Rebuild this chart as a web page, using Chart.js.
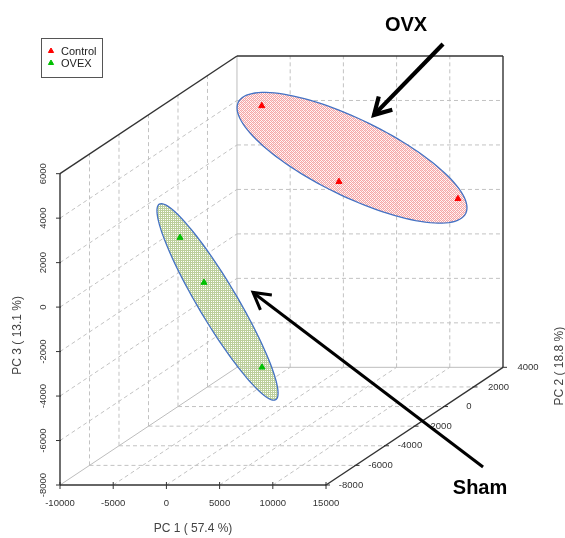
<!DOCTYPE html>
<html>
<head>
<meta charset="utf-8">
<title>PCA 3D score plot</title>
<script src="https://cdn.jsdelivr.net/npm/chart.js@4.4.1/dist/chart.umd.min.js"></script>
<style>
  html, body { margin: 0; padding: 0; background: #fff; }
  #wrap { width: 565px; height: 538px; position: relative; }
</style>
</head>
<body>
<div id="wrap"><canvas id="pcaChart"></canvas></div>
<script>
/*
 * PCA 3D 점수 그림 (scatterplot3d 스타일)
 * 3차원 점수를 사선 투영한 뒤 Chart.js 의 x/y 스케일로 그림
 */

// 그룹 이름
const groupNames = ['Control', 'OVEX'];
const groupColors = ['#ff0000', '#00c000'];

// PCA 점수 (PC1, PC2, PC3)
const controlPC1 = [-4900, 970, 13540];
const controlPC2 = [2000, 3000, 2000];
const controlPC3 = [4640, 790, 460];
const ovexPC1 = [-5650, -2010, 6210];
const ovexPC2 = [-3000, -4000, -6000];
const ovexPC3 = [920, -660, -3590];

// 축 눈금, 축 제목
const pc1Ticks = [-10000, -5000, 0, 5000, 10000, 15000];
const pc2Ticks = [-8000, -6000, -4000, -2000, 0, 2000, 4000];
const pc3Ticks = [-8000, -6000, -4000, -2000, 0, 2000, 4000, 6000];
const axisTitles = ['PC 1 ( 57.4 %)', 'PC 2 ( 18.8 %)', 'PC 3 ( 13.1 %)'];

// 깊이(PC2) 방향 투영 계수
const DEPTH_X = 1.386;
const DEPTH_Y = 0.441;

const P1_MIN = pc1Ticks[0], P1_MAX = pc1Ticks[pc1Ticks.length - 1];
const P2_MIN = pc2Ticks[0], P2_MAX = pc2Ticks[pc2Ticks.length - 1];
const P3_MIN = pc3Ticks[0], P3_MAX = pc3Ticks[pc3Ticks.length - 1];

/*
 * 3D 좌표 -> 2D 투영 좌표
 * 파라미터: pc1, pc2, pc3 값
 * 반환값: {x, y} (차트 스케일 단위)
 */
const project = function (p1, p2, p3) {
    const d = p2 - P2_MIN;
    return { x: p1 + DEPTH_X * d, y: p3 + DEPTH_Y * d };
};

const toPoints = (a, b, c) => a.map((v, i) => project(v, b[i], c[i]));

// 신뢰 타원 (투영 좌표 단위: 중심, 장축 벡터, 단축 벡터)
const ellipses = [
    { center: [17444, 6715], major: [10686, -2499], minor: [-1588, -1548], group: 0 },
    { center: [4803, 232], major: [5470, -4397], minor: [-1570, -444], group: 1 }
];

// 주석 화살표 (투영 좌표 단위)
const arrows = [
    { from: [25996, 11829], to: [19511, 8644], text: 'OVX', textAt: [22519, 12682], width: 4.2 },
    { from: [29756, -7192], to: [8139, 659], text: 'Sham', textAt: [29474, -8179], width: 3 }
];

/*
 * 타원 채우기용 격자 패턴 생성
 * 파라미터: 그룹 번호
 * 반환값: CanvasPattern
 */
const makePattern = function (ctx, group) {
    const c = document.createElement('canvas');
    c.width = 4; c.height = 4;
    const g = c.getContext('2d');
    if (group === 0) {
        g.fillStyle = 'rgba(255,242,242,0.7)';
        g.fillRect(0, 0, 4, 4);
        g.fillStyle = '#f5a6a6';
        for (let y = 0; y < 4; y++) {
            for (let x = 0; x < 4; x++) {
                if ((x + y) % 2 === 0) g.fillRect(x, y, 1, 1);
            }
        }
        g.fillStyle = '#fbd0d0';
        g.fillRect(1, 2, 1, 1);
        g.fillRect(3, 0, 1, 1);
    } else {
        g.fillStyle = 'rgba(255,255,250,0.6)';
        g.fillRect(0, 0, 4, 4);
        g.fillStyle = '#bccf9c';
        for (let y = 0; y < 4; y++) {
            for (let x = 0; x < 4; x++) {
                if (x % 2 === 0 || y % 2 === 0) g.fillRect(x, y, 1, 1);
            }
        }
    }
    return ctx.createPattern(c, 'repeat');
};

// 투영 좌표 -> 픽셀
const toPx = function (chart, u, v) {
    return [chart.scales.x.getPixelForValue(u), chart.scales.y.getPixelForValue(v)];
};

// 3D 선분 그리기
const line3 = function (chart, a, b) {
    const ctx = chart.ctx;
    const p = project(a[0], a[1], a[2]);
    const q = project(b[0], b[1], b[2]);
    const s = toPx(chart, p.x, p.y);
    const e = toPx(chart, q.x, q.y);
    ctx.beginPath();
    ctx.moveTo(s[0], s[1]);
    ctx.lineTo(e[0], e[1]);
    ctx.stroke();
};

/*
 * 박스, 격자, 축, 타원 그리기 플러그인
 */
const boxPlugin = {
    id: 'box3d',
    beforeDatasetsDraw(chart) {
        const ctx = chart.ctx;
        ctx.save();

        // 점선 격자
        ctx.strokeStyle = '#c2c2c2';
        ctx.lineWidth = 1;
        ctx.setLineDash([4, 3]);
        // 뒷면
        pc1Ticks.slice(1, -1).forEach(t => line3(chart, [t, P2_MAX, P3_MIN], [t, P2_MAX, P3_MAX]));
        pc3Ticks.slice(1, -1).forEach(t => line3(chart, [P1_MIN, P2_MAX, t], [P1_MAX, P2_MAX, t]));
        // 왼쪽 벽
        pc3Ticks.slice(1, -1).forEach(t => line3(chart, [P1_MIN, P2_MIN, t], [P1_MIN, P2_MAX, t]));
        pc2Ticks.slice(1, -1).forEach(t => line3(chart, [P1_MIN, t, P3_MIN], [P1_MIN, t, P3_MAX]));
        // 바닥
        pc1Ticks.slice(1, -1).forEach(t => line3(chart, [t, P2_MIN, P3_MIN], [t, P2_MAX, P3_MIN]));
        pc2Ticks.slice(1, -1).forEach(t => line3(chart, [P1_MIN, t, P3_MIN], [P1_MAX, t, P3_MIN]));

        // 연한 실선 (안쪽 모서리)
        ctx.setLineDash([]);
        ctx.strokeStyle = '#bdbdbd';
        line3(chart, [P1_MIN, P2_MAX, P3_MIN], [P1_MIN, P2_MAX, P3_MAX]);
        line3(chart, [P1_MIN, P2_MAX, P3_MIN], [P1_MAX, P2_MAX, P3_MIN]);
        line3(chart, [P1_MIN, P2_MIN, P3_MIN], [P1_MIN, P2_MAX, P3_MIN]);

        // 진한 실선 (바깥 모서리, 축)
        ctx.strokeStyle = '#333';
        ctx.lineWidth = 1.4;
        line3(chart, [P1_MIN, P2_MIN, P3_MIN], [P1_MAX, P2_MIN, P3_MIN]);
        line3(chart, [P1_MIN, P2_MIN, P3_MIN], [P1_MIN, P2_MIN, P3_MAX]);
        line3(chart, [P1_MIN, P2_MIN, P3_MAX], [P1_MIN, P2_MAX, P3_MAX]);
        line3(chart, [P1_MIN, P2_MAX, P3_MAX], [P1_MAX, P2_MAX, P3_MAX]);
        line3(chart, [P1_MAX, P2_MAX, P3_MIN], [P1_MAX, P2_MAX, P3_MAX]);
        line3(chart, [P1_MAX, P2_MIN, P3_MIN], [P1_MAX, P2_MAX, P3_MIN]);

        // 눈금 표시와 눈금 글자
        ctx.fillStyle = '#333';
        ctx.font = '9.5px "Liberation Sans", Arial, sans-serif';
        ctx.lineWidth = 1;
        pc1Ticks.forEach(t => {
            const p = project(t, P2_MIN, P3_MIN);
            const [x, y] = toPx(chart, p.x, p.y);
            ctx.beginPath(); ctx.moveTo(x, y - 3); ctx.lineTo(x, y + 4); ctx.stroke();
            ctx.textAlign = 'center'; ctx.textBaseline = 'middle';
            ctx.fillText(String(t), x, y + 18);
        });
        pc3Ticks.forEach(t => {
            const p = project(P1_MIN, P2_MIN, t);
            const [x, y] = toPx(chart, p.x, p.y);
            ctx.beginPath(); ctx.moveTo(x - 4, y); ctx.lineTo(x + 1, y); ctx.stroke();
            ctx.save();
            ctx.translate(x - 17, y);
            ctx.rotate(-Math.PI / 2);
            ctx.textAlign = 'center'; ctx.textBaseline = 'middle';
            ctx.fillText(String(t), 0, 0);
            ctx.restore();
        });
        pc2Ticks.forEach(t => {
            const p = project(P1_MAX, t, P3_MIN);
            const [x, y] = toPx(chart, p.x, p.y);
            ctx.beginPath(); ctx.moveTo(x - 1, y); ctx.lineTo(x + 4, y); ctx.stroke();
            ctx.textAlign = 'center'; ctx.textBaseline = 'middle';
            ctx.fillText(String(t), x + 25, y);
        });

        // 축 제목
        ctx.fillStyle = '#444';
        ctx.font = '12px "Liberation Sans", Arial, sans-serif';
        ctx.textAlign = 'center'; ctx.textBaseline = 'middle';
        const a1 = project((P1_MIN + P1_MAX) / 2, P2_MIN, P3_MIN);
        const [tx, ty] = toPx(chart, a1.x, a1.y);
        ctx.fillText(axisTitles[0], tx, ty + 44);
        const a3 = project(P1_MIN, P2_MIN, (P3_MIN + P3_MAX) / 2);
        const [zx, zy] = toPx(chart, a3.x, a3.y);
        ctx.save(); ctx.translate(zx - 42, zy + 6); ctx.rotate(-Math.PI / 2);
        ctx.fillText(axisTitles[2], 0, 0); ctx.restore();
        const a2 = project(P1_MAX, (P2_MIN + P2_MAX) / 2, P3_MIN);
        const [yx, yy] = toPx(chart, a2.x, a2.y);
        ctx.save(); ctx.translate(yx + 145, yy - 60); ctx.rotate(-Math.PI / 2);
        ctx.fillText(axisTitles[1], 0, 0); ctx.restore();

        // 타원
        ellipses.forEach(el => {
            ctx.beginPath();
            for (let i = 0; i <= 120; i++) {
                const t = i / 120 * Math.PI * 2;
                const u = el.center[0] + Math.cos(t) * el.major[0] + Math.sin(t) * el.minor[0];
                const v = el.center[1] + Math.cos(t) * el.major[1] + Math.sin(t) * el.minor[1];
                const [x, y] = toPx(chart, u, v);
                if (i === 0) ctx.moveTo(x, y); else ctx.lineTo(x, y);
            }
            ctx.closePath();
            ctx.fillStyle = makePattern(ctx, el.group);
            ctx.fill();
            ctx.strokeStyle = '#4472c4';
            ctx.lineWidth = 1.3;
            ctx.stroke();
        });
        ctx.restore();
    },
    afterDraw(chart) {
        const ctx = chart.ctx;
        ctx.save();

        // 범례
        ctx.strokeStyle = '#555';
        ctx.lineWidth = 1;
        ctx.strokeRect(41.5, 38.5, 61, 39);
        ctx.font = '11px "Liberation Sans", Arial, sans-serif';
        ctx.textAlign = 'left'; ctx.textBaseline = 'middle';
        chart.data.datasets.forEach((ds, i) => {
            const y = 51 + i * 12;
            ctx.fillStyle = ds.backgroundColor;
            ctx.strokeStyle = ds.borderColor;
            Chart.helpers.drawPoint(ctx, { pointStyle: 'triangle', radius: 3, borderWidth: 1 }, 51, y);
            ctx.fillStyle = '#222';
            ctx.fillText(ds.label, 61, y + 0.5);
        });

        // 화살표와 주석 글자
        ctx.strokeStyle = '#000';
        ctx.fillStyle = '#000';
        ctx.lineCap = 'butt';
        arrows.forEach(ar => {
            ctx.lineWidth = ar.width;
            const [x0, y0] = toPx(chart, ar.from[0], ar.from[1]);
            const [x1, y1] = toPx(chart, ar.to[0], ar.to[1]);
            ctx.beginPath(); ctx.moveTo(x0, y0); ctx.lineTo(x1, y1); ctx.stroke();
            const ang = Math.atan2(y0 - y1, x0 - x1);
            const len = 19;
            ctx.beginPath();
            ctx.moveTo(x1 + len * Math.cos(ang - 0.52), y1 + len * Math.sin(ang - 0.52));
            ctx.lineTo(x1, y1);
            ctx.lineTo(x1 + len * Math.cos(ang + 0.52), y1 + len * Math.sin(ang + 0.52));
            ctx.stroke();
            const [lx, ly] = toPx(chart, ar.textAt[0], ar.textAt[1]);
            ctx.font = 'bold 20px "Liberation Sans", Arial, sans-serif';
            ctx.textAlign = 'center'; ctx.textBaseline = 'middle';
            ctx.fillText(ar.text, lx, ly);
        });
        ctx.restore();
    }
};

const ctx = document.getElementById('pcaChart').getContext('2d');

new Chart(ctx, {
    type: 'scatter',
    data: {
        datasets: [{
            label: groupNames[0],
            data: toPoints(controlPC1, controlPC2, controlPC3),
            backgroundColor: groupColors[0],
            borderColor: groupColors[0]
        }, {
            label: groupNames[1],
            data: toPoints(ovexPC1, ovexPC2, ovexPC3),
            backgroundColor: groupColors[1],
            borderColor: groupColors[1]
        }]
    },
    options: {
        responsive: true,
        maintainAspectRatio: false,
        animation: false,
        layout: { padding: { left: 60, right: 62, top: 56, bottom: 53 } },
        elements: { point: { pointStyle: 'triangle', radius: 3.5, borderWidth: 1 } },
        scales: {
            x: { type: 'linear', display: false, min: P1_MIN, max: project(P1_MAX, P2_MAX, 0).x },
            y: { type: 'linear', display: false, min: P3_MIN, max: project(0, P2_MAX, P3_MAX).y }
        },
        plugins: {
            legend: { display: false },
            tooltip: { enabled: false }
        }
    },
    plugins: [boxPlugin]
});
</script>
</body>
</html>
